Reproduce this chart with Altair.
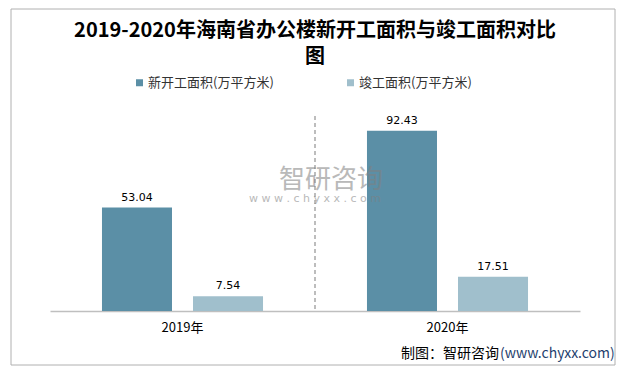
import altair as alt
import pandas as pd

years = ["2019年", "2020年"]
series = ["新开工面积(万平方米)", "竣工面积(万平方米)"]
new_start = [53.04, 92.43]
completed = [7.54, 17.51]
title_lines = ["2019-2020年海南省办公楼新开工面积与竣工面积对比", "图"]
source_label = "制图：智研咨询"
source_url = "(www.chyxx.com)"
wm_name = "智研咨询"
wm_url = "w w w . c h y x x . c o m"

rows = []
for i, y in enumerate(years):
    rows.append({"year": y, "series": series[0], "value": new_start[i]})
    rows.append({"year": y, "series": series[1], "value": completed[i]})
df = pd.DataFrame(rows)
one = pd.DataFrame({"k": [0]})

W, H = 530, 195
FONT = "Noto Sans CJK SC"

x_enc = alt.X("year:N", sort=years,
              scale=alt.Scale(paddingInner=0, paddingOuter=0),
              axis=alt.Axis(title=None, labelAngle=0, ticks=False, domainColor="#bfbfbf",
                            domainWidth=1.5, labelFont=FONT, labelFontSize=13,
                            labelColor="#000", labelPadding=10))
xo_enc = alt.XOffset("series:N", sort=series,
                     scale=alt.Scale(paddingInner=0.2308, paddingOuter=0.571))
y_enc = alt.Y("value:Q", scale=alt.Scale(domain=[0, 100], nice=False), axis=None)

border = alt.Chart(one).mark_rect(fill=None, stroke="#b0b0b0", strokeWidth=1).encode(
    x=alt.value(-39), x2=alt.value(565), y=alt.value(-107), y2=alt.value(249))

title = alt.Chart(pd.DataFrame({"t": title_lines, "yy": [-79, -53]})).mark_text(
    font=FONT, fontSize=20, fontWeight="bold", color="#000",
    align="center", baseline="alphabetic").encode(
    x=alt.value(265), y=alt.Y("yy:Q", scale=None), text="t:N")

bars = alt.Chart(df).mark_bar().encode(
    x=x_enc, xOffset=xo_enc, y=y_enc,
    color=alt.Color("series:N", sort=series,
                    scale=alt.Scale(domain=series, range=["#5b8fa6", "#a0bfcc"]),
                    legend=alt.Legend(title=None, orient="none", direction="horizontal",
                                      legendX=83, legendY=-40, symbolType="square",
                                      symbolSize=49, symbolStrokeWidth=0,
                                      labelFont=FONT, labelFontSize=13, labelColor="#333",
                                      labelOffset=2, columnPadding=70, labelLimit=300)))

labels = alt.Chart(df).mark_text(baseline="alphabetic", dy=-7, font="DejaVu Sans",
                                 fontSize=11, color="#000").encode(
    x=x_enc, xOffset=xo_enc, y=y_enc, text=alt.Text("value:Q", format=".2f"))

divider = alt.Chart(pd.DataFrame({"year": [years[1]]})).mark_rule(
    color="#a8a8a8", strokeWidth=1.5, strokeDash=[4, 3]).encode(
    x=alt.X("year:N", sort=years, bandPosition=0))

wm1 = alt.Chart(one).mark_text(text=wm_name, font=FONT, fontSize=26, color="#808080",
                               opacity=0.55, align="center", baseline="middle").encode(
    x=alt.value(281), y=alt.value(64))
wm2 = alt.Chart(one).mark_text(text=wm_url, font="DejaVu Sans", fontSize=11, color="#808080",
                               opacity=0.55, align="center", baseline="middle").encode(
    x=alt.value(265), y=alt.value(83))

src1 = alt.Chart(one).mark_text(text=source_label, font=FONT, fontSize=14, color="#000",
                                align="right", baseline="alphabetic").encode(
    x=alt.value(449), y=alt.value(242))
src2 = alt.Chart(one).mark_text(text=source_url, font=FONT, fontSize=14, color="#1f3f6e",
                                align="left", baseline="alphabetic").encode(
    x=alt.value(450), y=alt.value(242))

chart = alt.layer(border, title, bars, divider, labels, wm1, wm2, src1, src2).properties(
    width=W, height=H,
    autosize=alt.AutoSizeParams(type="none"),
    padding={"left": 42, "top": 108, "right": 41, "bottom": 55},
).configure(background="#ffffff").configure_view(stroke=None)

chart.save("out.html", embed_options={"renderer": "svg", "actions": False})
